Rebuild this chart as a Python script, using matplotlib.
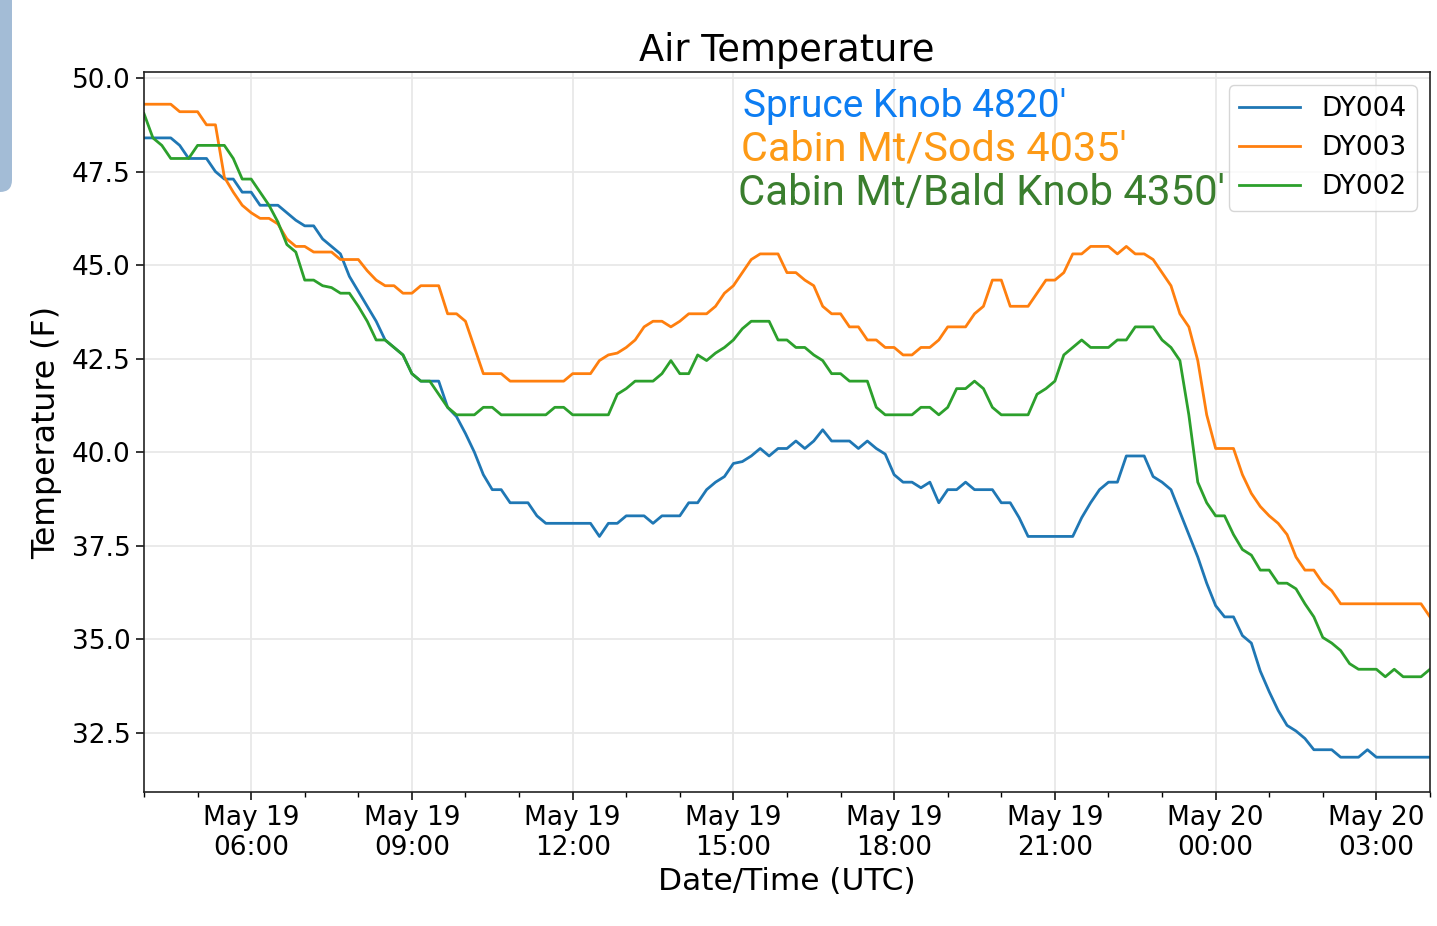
import matplotlib
matplotlib.use('Agg')
import matplotlib.pyplot as plt
import matplotlib.dates as mdates
from matplotlib.patches import FancyBboxPatch
import pandas as pd

# 10-minute air temperature readings (F), May 19 04:00 UTC -> May 20 04:00 UTC
dy004 = [48.4, 48.4, 48.4, 48.4, 48.2, 47.85, 47.85, 47.85, 47.5, 47.3, 47.3, 46.95,
         46.95, 46.6, 46.6, 46.6, 46.4, 46.2, 46.05, 46.05, 45.7, 45.5, 45.3, 44.7,
         44.3, 43.9, 43.5, 43.0, 42.8, 42.6, 42.1, 41.9, 41.9, 41.9, 41.2, 40.95,
         40.5, 40.0, 39.4, 39.0, 39.0, 38.65, 38.65, 38.65, 38.3, 38.1, 38.1, 38.1,
         38.1, 38.1, 38.1, 37.75, 38.1, 38.1, 38.3, 38.3, 38.3, 38.1, 38.3, 38.3,
         38.3, 38.65, 38.65, 39.0, 39.2, 39.35, 39.7, 39.75, 39.9, 40.1, 39.9, 40.1,
         40.1, 40.3, 40.1, 40.3, 40.6, 40.3, 40.3, 40.3, 40.1, 40.3, 40.1, 39.95,
         39.4, 39.2, 39.2, 39.05, 39.2, 38.65, 39.0, 39.0, 39.2, 39.0, 39.0, 39.0,
         38.65, 38.65, 38.25, 37.75, 37.75, 37.75, 37.75, 37.75, 37.75, 38.25, 38.65, 39.0,
         39.2, 39.2, 39.9, 39.9, 39.9, 39.35, 39.2, 39.0, 38.4, 37.8, 37.2, 36.5,
         35.9, 35.6, 35.6, 35.1, 34.9, 34.15, 33.6, 33.1, 32.7, 32.55, 32.35, 32.05,
         32.05, 32.05, 31.85, 31.85, 31.85, 32.05, 31.85, 31.85, 31.85, 31.85, 31.85, 31.85,
         31.85]

dy003 = [49.3, 49.3, 49.3, 49.3, 49.1, 49.1, 49.1, 48.75, 48.75, 47.35, 46.95, 46.6,
         46.4, 46.25, 46.25, 46.1, 45.7, 45.5, 45.5, 45.35, 45.35, 45.35, 45.15, 45.15,
         45.15, 44.85, 44.6, 44.45, 44.45, 44.25, 44.25, 44.45, 44.45, 44.45, 43.7, 43.7,
         43.5, 42.8, 42.1, 42.1, 42.1, 41.9, 41.9, 41.9, 41.9, 41.9, 41.9, 41.9,
         42.1, 42.1, 42.1, 42.45, 42.6, 42.65, 42.8, 43.0, 43.35, 43.5, 43.5, 43.35,
         43.5, 43.7, 43.7, 43.7, 43.9, 44.25, 44.45, 44.8, 45.15, 45.3, 45.3, 45.3,
         44.8, 44.8, 44.6, 44.45, 43.9, 43.7, 43.7, 43.35, 43.35, 43.0, 43.0, 42.8,
         42.8, 42.6, 42.6, 42.8, 42.8, 43.0, 43.35, 43.35, 43.35, 43.7, 43.9, 44.6,
         44.6, 43.9, 43.9, 43.9, 44.25, 44.6, 44.6, 44.8, 45.3, 45.3, 45.5, 45.5,
         45.5, 45.3, 45.5, 45.3, 45.3, 45.15, 44.8, 44.45, 43.7, 43.35, 42.45, 41.0,
         40.1, 40.1, 40.1, 39.4, 38.9, 38.55, 38.3, 38.1, 37.8, 37.2, 36.85, 36.85,
         36.5, 36.3, 35.95, 35.95, 35.95, 35.95, 35.95, 35.95, 35.95, 35.95, 35.95, 35.95,
         35.6]

dy002 = [49.05, 48.4, 48.2, 47.85, 47.85, 47.85, 48.2, 48.2, 48.2, 48.2, 47.85, 47.3,
         47.3, 46.95, 46.6, 46.15, 45.55, 45.35, 44.6, 44.6, 44.45, 44.4, 44.25, 44.25,
         43.9, 43.5, 43.0, 43.0, 42.8, 42.6, 42.1, 41.9, 41.9, 41.55, 41.2, 41.0,
         41.0, 41.0, 41.2, 41.2, 41.0, 41.0, 41.0, 41.0, 41.0, 41.0, 41.2, 41.2,
         41.0, 41.0, 41.0, 41.0, 41.0, 41.55, 41.7, 41.9, 41.9, 41.9, 42.1, 42.45,
         42.1, 42.1, 42.6, 42.45, 42.65, 42.8, 43.0, 43.3, 43.5, 43.5, 43.5, 43.0,
         43.0, 42.8, 42.8, 42.6, 42.45, 42.1, 42.1, 41.9, 41.9, 41.9, 41.2, 41.0,
         41.0, 41.0, 41.0, 41.2, 41.2, 41.0, 41.2, 41.7, 41.7, 41.9, 41.7, 41.2,
         41.0, 41.0, 41.0, 41.0, 41.55, 41.7, 41.9, 42.6, 42.8, 43.0, 42.8, 42.8,
         42.8, 43.0, 43.0, 43.35, 43.35, 43.35, 43.0, 42.8, 42.45, 41.0, 39.2, 38.65,
         38.3, 38.3, 37.8, 37.4, 37.25, 36.85, 36.85, 36.5, 36.5, 36.35, 35.95, 35.6,
         35.05, 34.9, 34.7, 34.35, 34.2, 34.2, 34.2, 34.0, 34.2, 34.0, 34.0, 34.0,
         34.2]

times = pd.date_range('2019-05-19 04:00', periods=len(dy004), freq='10min')

station_labels = ["Spruce Knob 4820'", "Cabin Mt/Sods 4035'", "Cabin Mt/Bald Knob 4350'"]
station_colors = ['#0d7df2', '#fd9a16', '#3a7e2e']
station_sizes = [28, 29.8, 30.2]

fig, ax = plt.subplots(figsize=(14.37, 9.26), dpi=100)
fig.subplots_adjust(left=0.1002, right=0.9951, top=0.9222, bottom=0.1447)

ax.plot(times, dy004, color='#1f77b4', lw=2, label='DY004')
ax.plot(times, dy003, color='#ff7f0e', lw=2, label='DY003')
ax.plot(times, dy002, color='#2ca02c', lw=2, label='DY002')

ax.set_xlim(times[0], times[-1])
ax.set_ylim(30.92, 50.16)

ax.xaxis.set_major_locator(mdates.HourLocator(byhour=range(0, 24, 3)))
ax.xaxis.set_minor_locator(mdates.HourLocator())
ax.xaxis.set_major_formatter(mdates.DateFormatter('%b %d\n%H:%M'))
for lbl in ax.get_xticklabels():
    lbl.set_ha('center')

ax.tick_params(axis='both', which='major', labelsize=19, length=6, width=1.1)
ax.tick_params(axis='x', which='minor', length=3.5, width=1.0)

ax.grid(True, which='major', color='#e8e8e8', lw=1.3)
ax.set_axisbelow(True)
for sp in ax.spines.values():
    sp.set_color('#222222')
    sp.set_linewidth(1.2)

ax.set_title('Air Temperature', fontsize=26.5, pad=8)
ax.set_xlabel('Date/Time (UTC)', fontsize=22.5)
ax.set_ylabel('Temperature (F)', fontsize=22.8, labelpad=7)

ax.legend(loc='upper right', fontsize=19, handlelength=2.3)

for k, (txt, col, fs) in enumerate(zip(station_labels, station_colors, station_sizes)):
    ax.text(0.466 - k * 0.002, 0.9375 - k * 0.061, txt, transform=ax.transAxes,
            fontsize=fs, color=col, family='Roboto', va='baseline', ha='left')

# bit of the screenshot's window frame at the left edge
fig.patches.append(FancyBboxPatch((-0.3, 7.34), 0.42, 2.5,
                                  boxstyle='round,pad=0,rounding_size=0.12',
                                  transform=fig.dpi_scale_trans,
                                  facecolor='#a3bcd6', edgecolor='none'))

fig.savefig('out.png', dpi=100)
